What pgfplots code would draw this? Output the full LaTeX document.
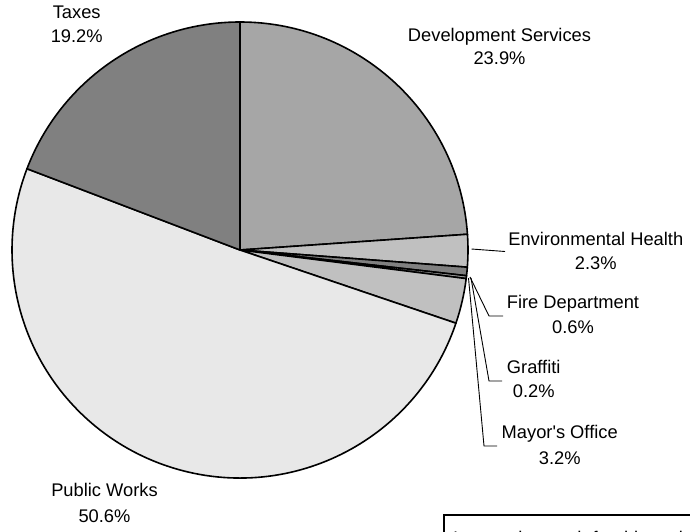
\documentclass[border=0pt]{standalone}
\usepackage{pgfplots}
\pgfplotsset{compat=1.18}
\usepackage{pgfplotstable}
\usepackage{fontspec}
\setmainfont{Liberation Sans}[Ligatures=TeXOff]

\definecolor{cdev}{HTML}{A6A6A6}
\definecolor{cenv}{HTML}{C0C0C0}
\definecolor{cfire}{HTML}{808080}
\definecolor{cgraf}{HTML}{A0A0A0}
\definecolor{cmay}{HTML}{C0C0C0}
\definecolor{cpw}{HTML}{E8E8E8}
\definecolor{ctax}{HTML}{808080}

% label, share (%), fill colour, label centre x, baselines (pixels from top)
\pgfplotstableread[col sep=comma]{
label,value,col,lx,ly,lyb
Development Services,23.9,cdev,499.5,41.7,65
Environmental Health,2.3,cenv,595.8,245,269.3
Fire Department,0.6,cfire,573,308.3,333.3
Graffiti,0.2,cgraf,533.7,373.3,397.5
Mayor's Office,3.2,cmay,559.7,438.3,464
Public Works,50.6,cpw,104.5,496.7,522
Taxes,19.2,ctax,76.7,18.3,42.7
}\piedata

\begin{document}
\begin{tikzpicture}[font=\fontsize{18.3}{22}\selectfont]
\begin{axis}[hide axis, x=1pt, y=1pt, xmin=0, xmax=690, ymin=0, ymax=531,
  scale only axis, anchor=origin, at={(0,0)}]
\pgfplotstablegetrowsof{\piedata}
\pgfmathtruncatemacro\nrows{\pgfplotsretval-1}
\xdef\curang{90}
\foreach \i in {0,...,\nrows}{
  \pgfplotstablegetelem{\i}{value}\of\piedata \let\v\pgfplotsretval
  \pgfplotstablegetelem{\i}{col}\of\piedata \let\c\pgfplotsretval
  \pgfplotstablegetelem{\i}{label}\of\piedata \let\lab\pgfplotsretval
  \pgfplotstablegetelem{\i}{lx}\of\piedata \let\lx\pgfplotsretval
  \pgfplotstablegetelem{\i}{ly}\of\piedata \let\ly\pgfplotsretval
  \pgfplotstablegetelem{\i}{lyb}\of\piedata \let\lyb\pgfplotsretval
  \pgfmathsetmacro\endang{\curang-3.6*\v}
  \pgfmathsetmacro\yA{531-\ly}
  \pgfmathsetmacro\yB{531-\lyb}
  \edef\temp{%
    \noexpand\filldraw[fill=\c, draw=black, line width=1.6pt, line join=round]
      (axis cs:240,281) -- ++(\curang:228pt)
      arc[start angle=\curang, end angle=\endang, radius=228pt] -- cycle;
    \noexpand\node[anchor=base, inner sep=0pt] at (axis cs:\lx,\yA) {\lab};
    \noexpand\node[anchor=base, inner sep=0pt] at (axis cs:\lx,\yB) {\v\noexpand\%};
  }
  \temp
  \xdef\curang{\endang}
}
% leader lines
\draw[line width=0.9pt] (axis cs:471.5,282) -- (axis cs:505,279.5);
\draw[line width=0.9pt] (axis cs:470,254) -- (axis cs:489,215) -- (axis cs:503,215);
\draw[line width=0.9pt] (axis cs:471,253) -- (axis cs:489,150) -- (axis cs:502,150);
\draw[line width=0.9pt] (axis cs:468.5,253) -- (axis cs:484,85) -- (axis cs:497,85);
% partly visible text box
\draw[line width=1.5pt, fill=white] (axis cs:444,16) rectangle (axis cs:760,-60);
\node[anchor=base west, inner sep=0pt] at (axis cs:453,-13) {Income by youth for this period};
\coordinate (sw) at (axis cs:0,0);
\coordinate (ne) at (axis cs:690,531);
\end{axis}
\pgfresetboundingbox
\path[use as bounding box] (sw) rectangle (ne);
\end{tikzpicture}
\end{document}
